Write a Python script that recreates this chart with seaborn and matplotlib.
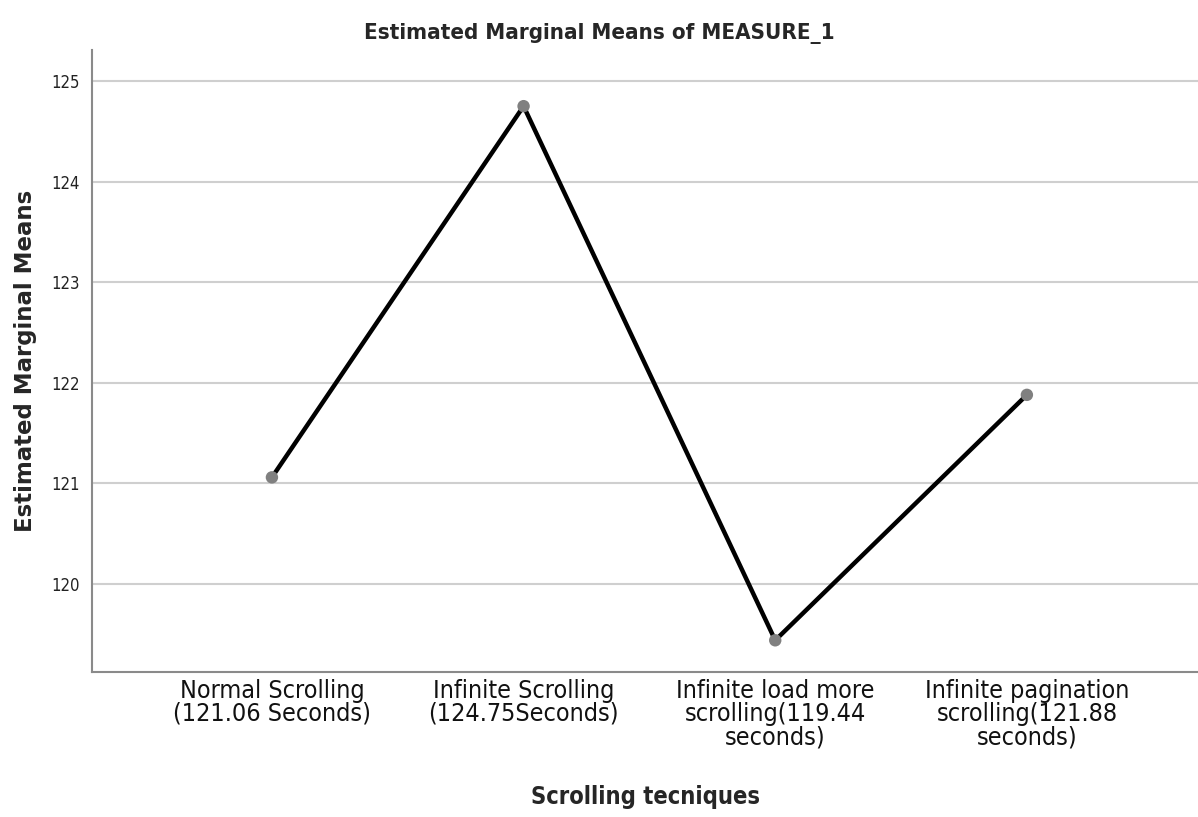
import pandas as pd
import seaborn as sns
import matplotlib.pyplot as plt

# valores
tecnicas = [
    "Normal Scrolling\n(121.06 Seconds)",
    "Infinite Scrolling\n(124.75Seconds)",
    "Infinite load more\nscrolling(119.44\nseconds)",
    "Infinite pagination\nscrolling(121.88\nseconds)",
]
medias = [121.06, 124.75, 119.44, 121.88]
y_ticks = [120, 121, 122, 123, 124, 125]

df = pd.DataFrame({"tecnica": tecnicas, "media": medias})

sns.set_style("white")
# fonte condensada, parecida com a do SPSS
fonte_estreita = {"family": "DejaVu Sans", "stretch": "condensed"}

fig = plt.figure(figsize=(11.98, 8.17), dpi=100)
ax = fig.add_axes([0.0768, 0.1775, 0.9232, 0.7615])

sns.lineplot(data=df, x="tecnica", y="media", color="black", linewidth=3.2,
             sort=False, ax=ax)
sns.scatterplot(data=df, x="tecnica", y="media", color="#808080", s=80,
                edgecolor="none", zorder=3, ax=ax)

ax.set_xlim(-0.715, 3.68)
ax.set_ylim(119.125, 125.31)
ax.set_yticks(y_ticks)
ax.yaxis.grid(True, color="#cfcfcf", linewidth=1.5)
ax.set_axisbelow(True)

for lado in ["top", "right"]:
    ax.spines[lado].set_visible(False)
for lado in ["left", "bottom"]:
    ax.spines[lado].set_color("#8a8a8a")
    ax.spines[lado].set_linewidth(1.5)

ax.tick_params(axis="both", length=0)
for t in ax.get_yticklabels():
    t.set(**fonte_estreita, fontsize=12, color="#222222")
for t in ax.get_xticklabels():
    t.set(**fonte_estreita, fontsize=18, color="#111111", linespacing=0.95)
ax.tick_params(axis="x", pad=5)
ax.tick_params(axis="y", pad=9)

ax.set_xlabel("Scrolling tecniques", fontsize=17, fontweight="bold",
              labelpad=26, **fonte_estreita)
ax.set_ylabel("Estimated Marginal Means", fontsize=16.5, fontweight="bold",
              labelpad=10)
fig.suptitle("Estimated Marginal Means of MEASURE_1", fontsize=16,
             fontweight="bold", x=0.5, y=0.972, **fonte_estreita)

fig.savefig("out.png", dpi=100)
